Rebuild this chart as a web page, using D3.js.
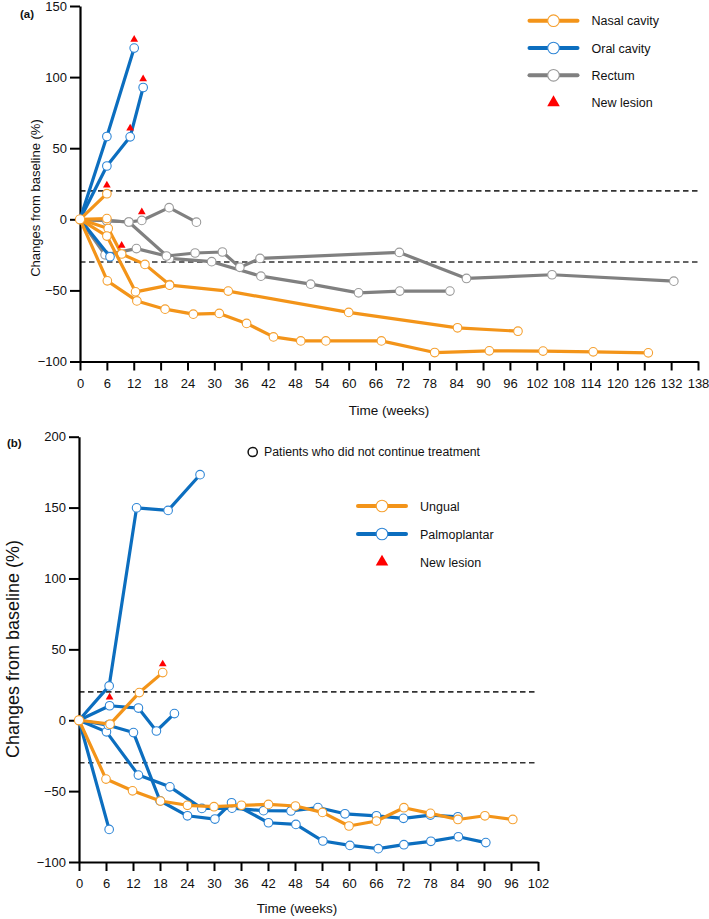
<!DOCTYPE html>
<html><head><meta charset="utf-8">
<script src="https://cdn.jsdelivr.net/npm/d3@7"></script>
<style>
body{margin:0;background:#fff}
svg{display:block}
text{font-family:"Liberation Sans",Arial,Helvetica,sans-serif;fill:#111}
</style>
</head><body>
<svg id="chart" width="709" height="919"></svg>
<script>
// ---------- Panel (a) data: [week, % change] ----------
const xTicksA = d3.range(0, 139, 6);
const yTicksA = [150, 100, 50, 0, -50, -100];
const thresholdsA = [20, -30];

const nasal1 = [[0,0],[6,18]];
const nasal2 = [[0,0],[6,0.5]];
const nasal3 = [[0,0],[6.3,-6.5],[9.3,-24.4],[14.5,-31.7],[20,-46]];
const nasal4 = [[0,0],[6,-11.8],[12.4,-51],[20,-46.3],[33.1,-50.5],[60,-65.5],[84.3,-76.3],[97.8,-78.7]];
const nasal5 = [[0,0],[6.1,-43.3],[12.7,-57.4],[19,-63.2],[25.3,-66.7],[31.1,-66.2],[37.2,-73.2],[43.2,-82.7],[49.3,-85.5],[54.9,-85.5],[67.3,-85.5],[79.2,-93.7],[91.4,-92.5],[103.4,-92.7],[114.6,-93.2],[126.9,-93.9]];

const oral1 = [[0,0],[6,58.2],[12.1,120.4]];
const oral2 = [[0,0],[6,37.5],[11.2,58],[14.1,92.7]];
const oral3 = [[0,0],[6.7,-26.3]];

const rectum1 = [[0,0],[6,-1],[10.9,-1.9],[13.8,-0.8],[19.9,8.2],[26,-2]];
const rectum2 = [[0,0],[6,-1],[10.9,-1.9],[20,-27.5],[29.4,-29.8],[40.4,-40],[51.5,-45.6],[62.2,-51.7],[71.4,-50.5],[82.6,-50.5]];
const rectum3 = [[0,0],[5.6,-25],[12.6,-20.6],[19.3,-25.8],[25.7,-23.7],[31.8,-23],[35.7,-33.8],[40.2,-27.5],[71.3,-23.3],[86.3,-41.6],[105.4,-39],[132.6,-43.5]];

const lesionsA = [[6,18],[12.1,120.4],[11.2,58],[14.1,92.7],[9.3,-24.4],[13.8,-0.8]];

// ---------- Panel (b) data ----------
const xTicksB = d3.range(0, 103, 6);
const yTicksB = [200, 150, 100, 50, 0, -50, -100];
const thresholdsB = [20, -30];

const ungual1 = [[0,0],[6.9,-2.8],[13.4,19.5],[18.6,33.6]];
const ungual2 = [[0,0],[6,-41.5],[11.9,-49.8],[18.1,-57],[24.1,-60],[30,-61],[36.1,-60],[42.1,-59.4],[48.1,-60.5],[54.1,-65],[60,-74.6],[66.1,-71.1],[72.2,-61.7],[78.1,-65.7],[84.2,-70],[90.2,-67.4],[96.4,-70]];

const palmo1 = [[0,0],[6.7,24.2],[12.8,149.8],[19.8,148],[26.9,173.2]];
const palmo2 = [[0,0],[6.8,10.2],[13.2,8.6],[17.2,-7.6],[21.2,4.7]];
const palmo3 = [[0,0],[6.1,-8.2],[13.2,-38.7],[20.2,-47],[27.3,-62.2],[34,-62],[41,-63.8],[47.1,-64],[53.1,-61.6],[59.1,-66],[66.1,-67.4],[72.1,-69.2],[78.1,-66.9],[84.2,-68.1]];
const palmo4 = [[0,0],[6.5,-3.5],[12.1,-8.7],[18,-56.8],[24.1,-67.4],[30.2,-69.7],[33.9,-58.2],[42.1,-72.3],[48.2,-73.5],[54.2,-85.2],[60.2,-88.3],[66.5,-90.6],[72.2,-87.8],[78.2,-85.4],[84.3,-82.2],[90.4,-86.3]];
const palmo5 = [[0,0],[6.7,-77]];

const lesionsB = [[6.8,10.2],[18.6,33.6]];

// ---------- Legends ----------
const legendA = ["Nasal cavity", "Oral cavity", "Rectum", "New lesion"];
const legendB = ["Ungual", "Palmoplantar", "New lesion"];
const noteB = "Patients who did not continue treatment";

// ---------- Styles ----------
const ORANGE = "#F39419", BLUE = "#0C6EBF", GRAY = "#808080", RED = "#FF0000";
const CIRCLE_STROKE = {[ORANGE]: "#F5A030", [BLUE]: "#2F86D6", [GRAY]: "#9a9a9a"};

const svg = d3.select("#chart");

function drawPanel(o) {
  const g = svg.append("g");
  const x = d3.scaleLinear().domain(o.xDomain).range(o.xRange);
  const y = d3.scaleLinear().domain(o.yDomain).range(o.yRange);

  // threshold lines
  g.selectAll(".thr").data(o.thresholds).enter().append("line")
    .attr("x1", x(o.xDomain[0])).attr("x2", o.dashEnd !== undefined ? o.dashEnd : x(o.xDomain[1]))
    .attr("y1", d => y(d)).attr("y2", d => y(d))
    .attr("stroke", "#333").attr("stroke-width", 1.6).attr("stroke-dasharray", "5.5,3.5");

  // axes
  const ya = g.append("g").attr("transform", `translate(${o.xRange[0]},0)`)
    .call(d3.axisLeft(y).tickValues(o.yTicks).tickSize(10).tickSizeOuter(0).tickPadding(3));
  const xa = g.append("g").attr("transform", `translate(0,${o.yRange[0]})`)
    .call(d3.axisBottom(x).tickValues(o.xTicks).tickSize(9).tickSizeOuter(0).tickPadding(8));
  [ya, xa].forEach(a => {
    a.select(".domain").attr("stroke", "#000").attr("stroke-width", 2.2);
    a.selectAll(".tick line").attr("stroke", "#000").attr("stroke-width", 2);
    a.selectAll("text").attr("font-size", o.tickFont).attr("font-family", '"Liberation Sans",Arial,sans-serif').attr("fill", "#111");
  });

  // series
  const line = d3.line().x(d => x(d[0])).y(d => y(d[1]));
  o.series.forEach(s => {
    const sg = g.append("g");
    sg.append("path").datum(s.data).attr("d", line)
      .attr("fill", "none").attr("stroke", s.color).attr("stroke-width", 3.2)
      .attr("stroke-linejoin", "round").attr("stroke-linecap", "round");
    sg.selectAll("circle").data(s.data.slice(1)).enter().append("circle")
      .attr("cx", d => x(d[0])).attr("cy", d => y(d[1])).attr("r", 4.3)
      .attr("fill", "#fff").attr("stroke", CIRCLE_STROKE[s.color]).attr("stroke-width", 1.1);
  });
  // baseline point
  g.append("circle").attr("cx", x(0)).attr("cy", y(0)).attr("r", 4.6)
    .attr("fill", "#fff").attr("stroke", CIRCLE_STROKE[ORANGE]).attr("stroke-width", 1.1);

  // new lesions
  g.selectAll(".les").data(o.lesions).enter().append("path")
    .attr("d", d3.symbol(d3.symbolTriangle).size(26))
    .attr("transform", d => `translate(${x(d[0])},${y(d[1]) - 8.5})`)
    .attr("fill", RED);

  // labels
  g.append("text").attr("x", o.panelLabel[1]).attr("y", o.panelLabel[2])
    .attr("font-size", 11.5).attr("font-weight", "bold").text(o.panelLabel[0]);
  g.append("text").attr("x", o.xTitle[0]).attr("y", o.xTitle[1]).attr("text-anchor", "middle")
    .attr("font-size", o.xTitleFont).text("Time (weeks)");
  g.append("text").attr("transform", `translate(${o.yTitle[0]},${o.yTitle[1]}) rotate(-90)`)
    .attr("text-anchor", "middle").attr("font-size", o.yTitleFont).text("Changes from baseline (%)");

  // legend
  o.legend.forEach((L, i) => {
    const ly = o.legendPos[1] + i * o.legendStep;
    const lx = o.legendPos[0];
    if (L.color) {
      g.append("line").attr("x1", lx - 24).attr("x2", lx + 24).attr("y1", ly).attr("y2", ly)
        .attr("stroke", L.color).attr("stroke-width", 4).attr("stroke-linecap", "round");
      g.append("circle").attr("cx", lx).attr("cy", ly).attr("r", 5.8)
        .attr("fill", "#fff").attr("stroke", CIRCLE_STROKE[L.color]).attr("stroke-width", 1.1);
    } else {
      g.append("path").attr("d", d3.symbol(d3.symbolTriangle).size(68))
        .attr("transform", `translate(${lx},${ly})`).attr("fill", RED);
    }
    g.append("text").attr("x", lx + 38).attr("y", ly).attr("dy", "0.36em")
      .attr("font-size", 12.5).text(L.name);
  });
  return {g, x, y};
}

drawPanel({
  xDomain: [0, 138], xRange: [80, 698],
  yDomain: [-100, 150], yRange: [361.5, 6],
  xTicks: xTicksA, yTicks: yTicksA, thresholds: thresholdsA,
  tickFont: 13,
  series: [
    {data: rectum1, color: GRAY}, {data: rectum2, color: GRAY}, {data: rectum3, color: GRAY},
    {data: oral1, color: BLUE}, {data: oral2, color: BLUE}, {data: oral3, color: BLUE},
    {data: nasal1, color: ORANGE}, {data: nasal2, color: ORANGE}, {data: nasal3, color: ORANGE},
    {data: nasal4, color: ORANGE}, {data: nasal5, color: ORANGE}
  ],
  lesions: lesionsA,
  panelLabel: ["(a)", 20, 18],
  xTitle: [389, 415], xTitleFont: 13.5,
  yTitle: [40, 198], yTitleFont: 13,
  legend: [
    {name: legendA[0], color: ORANGE}, {name: legendA[1], color: BLUE},
    {name: legendA[2], color: GRAY}, {name: legendA[3]}
  ],
  legendPos: [553.5, 20.7], legendStep: 27.3
});

const pb = drawPanel({
  xDomain: [0, 102], xRange: [79, 538],
  yDomain: [-100, 200], yRange: [862, 436.7],
  xTicks: xTicksB, yTicks: yTicksB, thresholds: thresholdsB,
  tickFont: 13,
  series: [
    {data: palmo1, color: BLUE}, {data: palmo2, color: BLUE}, {data: palmo3, color: BLUE},
    {data: palmo4, color: BLUE}, {data: palmo5, color: BLUE},
    {data: ungual1, color: ORANGE}, {data: ungual2, color: ORANGE}
  ],
  lesions: lesionsB,
  panelLabel: ["(b)", 7, 447],
  xTitle: [297, 913], xTitleFont: 13.5,
  yTitle: [19, 649], yTitleFont: 18,
  legend: [
    {name: legendB[0], color: ORANGE}, {name: legendB[1], color: BLUE}, {name: legendB[2]}
  ],
  legendPos: [382, 506], legendStep: 28
});

// note: patients who did not continue treatment
pb.g.append("circle").attr("cx", 252.7).attr("cy", 452).attr("r", 4.6)
  .attr("fill", "#fff").attr("stroke", "#111").attr("stroke-width", 1.5);
pb.g.append("text").attr("x", 264).attr("y", 452).attr("dy", "0.36em")
  .attr("font-size", 12.3).text(noteB);
</script>
</body></html>
